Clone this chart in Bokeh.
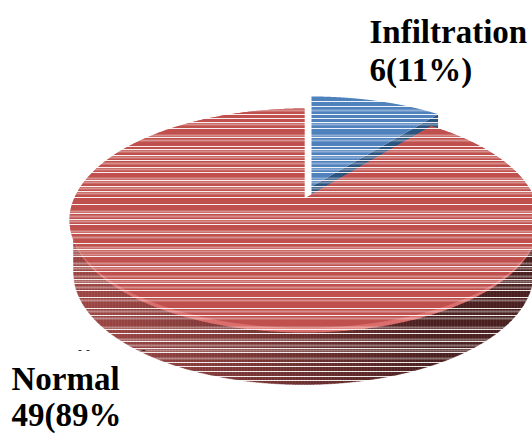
import math
import numpy as np
from bokeh.core.properties import value
from bokeh.embed import file_html
from bokeh.models import Range1d
from bokeh.plotting import figure
from bokeh.resources import INLINE

# Diagnosis counts shown as a tilted 3D pie
categories = ["Infiltration", "Normal"]
counts = [6, 49]
label_lines = [["Infiltration", "6(11%)"], ["Normal", "49(89%"]]

# Scan-line bands laid across the whole drawing
bright_rows = [101, 106, 114, 118, 122, 128, 137, 146, 149, 155, 160, 167, 172, 180, 186, 191,
               197, 204, 213, 219, 224, 233, 243, 249, 256, 266, 271, 279, 283, 290, 297, 308,
               315, 329, 333, 341, 348, 352, 362, 366, 371, 376, 380]
soft_rows = [110, 124, 135, 140, 151, 157, 163, 169, 178, 182, 188, 193, 211, 216, 221, 231,
             237, 247, 251, 254, 263, 268, 276, 281, 287, 300, 311, 318, 327, 339, 345,
             350, 358]

FACE_RED = "#c0504d"
RIM_RED = "#d96e6c"
FACE_BLUE = "#4f81bd"
WALL_BLUE = "#2c5480"

# Perspective disc: a unit circle seen from above, drawn around its apex
K = 0.1965
DEPTH_SCALE = 107.7
WIDTH_SCALE = 230.4
RED_APEX = (304, 198)
BLUE_APEX = (311, 186)
SIDE_DROP = 52
FACE_CX, FACE_CY, FACE_RY = 303, 220, 112
WALL_RX = 230


def disc_points(start, stop, apex, squeeze=1.0, steps=240):
    t = np.linspace(start, stop, steps)
    u, v = np.sin(t), np.cos(t)
    w = 1 + K * v
    x = WIDTH_SCALE * u / w
    y = -DEPTH_SCALE * v / w
    y = np.where(y > 0, y * squeeze, y)
    return apex[0] + x, apex[1] + y


def lerp_colour(a, b, f):
    ca = [int(a[i:i + 2], 16) for i in (1, 3, 5)]
    cb = [int(b[i:i + 2], 16) for i in (1, 3, 5)]
    return "#%02x%02x%02x" % tuple(round(p + (q - p) * f) for p, q in zip(ca, cb))


total = sum(counts)
blue_sweep = 2 * math.pi * counts[0] / total

p = figure(width=532, height=434, output_backend="svg", toolbar_location=None,
           x_range=Range1d(0, 532), y_range=Range1d(434, 0), min_border=0)
p.axis.visible = False
p.grid.visible = False
p.outline_line_color = None
p.background_fill_color = "white"
p.border_fill_color = "white"

# Side wall of the red slice, shaded from left to right in narrow strips
edges = np.arange(FACE_CX - WALL_RX, FACE_CX + WALL_RX + 3, 3)
for left, right in zip(edges[:-1], edges[1:]):
    xs = np.linspace(left, right, 4)
    top = np.full(4, FACE_CY + 5.0)
    half = FACE_RY * np.sqrt(np.clip(1 - ((xs - FACE_CX) / WALL_RX) ** 2, 0, 1))
    bottom = FACE_CY + half + SIDE_DROP
    f = min(max(((left + right) / 2 - 90) / 340, 0), 1)
    colour = lerp_colour("#9a4543", "#4a1f1f", f ** 1.15)
    p.patch(list(xs) + list(xs[::-1]), list(top) + list(bottom[::-1]),
            fill_color=colour, line_color=colour, line_width=0.5)

# Blue slice: inner wall first, then the face
bx, by = disc_points(0, blue_sweep, BLUE_APEX)
p.patch([BLUE_APEX[0], bx[-1], bx[-1], BLUE_APEX[0]],
        [BLUE_APEX[1], by[-1], by[-1] + 14, BLUE_APEX[1] + 14],
        fill_color=WALL_BLUE, line_color=None)
p.patch([BLUE_APEX[0], *bx], [BLUE_APEX[1], *by], fill_color=FACE_BLUE, line_color=None)

# Red slice: pale rim underneath, main face on top
rx, ry = disc_points(blue_sweep, 2 * math.pi, RED_APEX, steps=721)
p.patch([RED_APEX[0], *rx], [RED_APEX[1], *ry], fill_color=RIM_RED, line_color=None)
fx, fy = disc_points(blue_sweep, 2 * math.pi, RED_APEX, squeeze=0.965, steps=721)
p.patch([RED_APEX[0], *fx], [RED_APEX[1], *fy], fill_color=FACE_RED, line_color=None)

# Scan lines vanish on the white page and only show over the pie
p.segment(x0=[0] * len(soft_rows), x1=[532] * len(soft_rows), y0=soft_rows, y1=soft_rows,
          line_color="white", line_alpha=0.36, line_width=2)
p.segment(x0=[0] * len(bright_rows), x1=[532] * len(bright_rows), y0=bright_rows, y1=bright_rows,
          line_color="white", line_alpha=0.9, line_width=1)

# Small stray marks beside the lower label
p.segment(x0=[78, 86, 141], x1=[81, 89, 145], y0=[350, 350, 350], y1=[350, 350, 350],
          line_color="#333333", line_width=1)

# Slice labels
label_x = [369, 11]
label_y = [[31, 69], [378, 414]]
for lines, lx, rows in zip(label_lines, label_x, label_y):
    for line, ly in zip(lines, rows):
        p.text(x=[lx], y=[ly], text=[line], text_font=value("Liberation Serif"),
               text_font_size="33px", text_font_style="bold", text_color="#000000",
               text_baseline="alphabetic", text_align="left")

open("out.html", "w").write(file_html(p, INLINE))
